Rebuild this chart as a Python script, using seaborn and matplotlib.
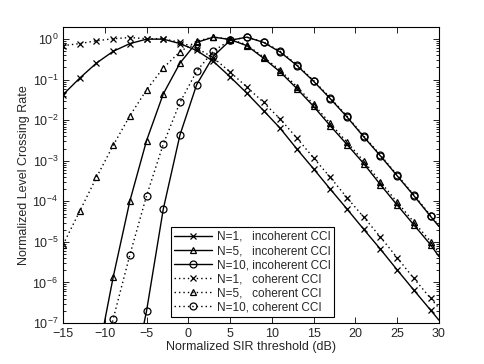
import numpy as np
import pandas as pd
import matplotlib
matplotlib.use("Agg")
import matplotlib.pyplot as plt
from matplotlib.lines import Line2D
import seaborn as sns

# SIR threshold (dB) for each curve; markers sit on the odd values
x_n1 = [-15, -13, -11, -9, -7, -5, -3, -1, 1, 3, 5, 7, 9, 11, 13, 15, 17, 19, 21, 23, 25, 27, 29, 30]
x_n5_incoh = [-11, -9, -7, -5, -3, -1, 1, 3, 5, 7, 9, 11, 13, 15, 17, 19, 21, 23, 25, 27, 29, 30]
x_n5_coh = x_n1
x_n10_incoh = [-7, -5, -3, -1, 1, 3, 5, 7, 9, 11, 13, 15, 17, 19, 21, 23, 25, 27, 29, 30]
x_n10_coh = x_n5_incoh

# log10 of the normalized level crossing rate
n1_incoh = [-1.37, -0.96, -0.59, -0.30, -0.11, 0.0, 0.0, -0.11, -0.28, -0.55, -0.93, -1.33,
            -1.76, -2.2, -2.71, -3.2, -3.70, -4.19, -4.69, -5.18, -5.69, -6.19, -6.68, -6.93]
n5_incoh = [-8.0, -5.87, -3.99, -2.50, -1.35, -0.59, -0.08, 0.05, -0.01, -0.16, -0.47,
            -0.81, -1.22, -1.66, -2.14, -2.60, -3.07, -3.59, -4.09, -4.58, -5.07, -5.36]
n10_incoh = [-8.7, -6.70, -4.19, -2.36, -1.12, -0.42, -0.03, 0.05, -0.08, -0.32, -0.65,
             -1.04, -1.47, -1.92, -2.41, -2.88, -3.37, -3.86, -4.37, -4.62]
n1_coh = [-0.16, -0.11, -0.04, 0.01, 0.04, 0.01, 0.01, -0.08, -0.22, -0.46, -0.81, -1.18,
          -1.56, -1.97, -2.44, -2.93, -3.41, -3.91, -4.39, -4.88, -5.39, -5.90, -6.39, -6.63]
n5_coh = [-5.07, -4.24, -3.41, -2.62, -1.89, -1.25, -0.71, -0.31, -0.05, 0.05, 0.0, -0.14,
          -0.44, -0.77, -1.17, -1.61, -2.08, -2.54, -3.01, -3.52, -4.02, -4.51, -4.99, -5.27]
n10_coh = [-8.6, -6.90, -5.32, -3.86, -2.59, -1.56, -0.79, -0.29, -0.03, 0.05, -0.07,
           -0.30, -0.63, -1.02, -1.45, -1.90, -2.39, -2.86, -3.35, -3.84, -4.35, -4.60]

labels = ["N=1,   incoherent CCI", "N=5,   incoherent CCI", "N=10, incoherent CCI",
          "N=1,   coherent CCI", "N=5,   coherent CCI", "N=10, coherent CCI"]

sns.set_style("ticks", {"xtick.direction": "in", "ytick.direction": "in"})
plt.rcParams["font.family"] = ["Liberation Sans", "DejaVu Sans"]
plt.rcParams["mathtext.fontset"] = "custom"
plt.rcParams["mathtext.rm"] = "Liberation Sans"
plt.rcParams["mathtext.it"] = "Liberation Sans"

fig = plt.figure(figsize=(4.85, 3.64), dpi=100)
ax = fig.add_axes([0.130, 0.1126, 0.775, 0.8134])

solid = "-"
dotted = (0, (1, 2.2))
series = [
    (x_n1, n1_incoh, solid, "x"),
    (x_n5_incoh, n5_incoh, solid, "^"),
    (x_n10_incoh, n10_incoh, solid, "o"),
    (x_n1, n1_coh, dotted, "x"),
    (x_n5_coh, n5_coh, dotted, "^"),
    (x_n10_coh, n10_coh, dotted, "o"),
]

handles = []
for (xs, logs, ls, mk), lab in zip(series, labels):
    df = pd.DataFrame({"x": xs, "y": np.power(10.0, logs)})
    sns.lineplot(data=df, x="x", y="y", ax=ax, color="k", linewidth=1.0,
                 linestyle=ls, estimator=None, sort=False, legend=False)
    m = df[df["x"] % 2 != 0]
    ax.plot(m["x"], m["y"], linestyle="none", marker=mk, markersize=5,
            markerfacecolor="none", markeredgecolor="k", markeredgewidth=0.9)
    handles.append(Line2D([], [], color="k", linewidth=1.0, linestyle=ls, marker=mk,
                          markersize=5, markerfacecolor="none", markeredgecolor="k",
                          markeredgewidth=0.9))

ax.set_yscale("log")
ax.set_xlim(-15, 30)
ax.set_ylim(1e-7, 2)
ax.set_xticks(np.arange(-15, 31, 5))
ax.set_yticks([10.0 ** k for k in range(-7, 1)])
ax.tick_params(which="both", top=True, right=True, direction="in", labelsize=9,
               color="k", width=0.6)
ax.tick_params(which="major", length=4)
ax.tick_params(which="minor", length=2)
for s in ax.spines.values():
    s.set_linewidth(0.8)
    s.set_color("k")

ax.set_xlabel("Normalized SIR threshold (dB)", fontsize=9, labelpad=1)
ax.set_ylabel("Normalized Level Crossing Rate", fontsize=9, labelpad=2)

leg = ax.legend(handles, labels, loc="lower left", bbox_to_anchor=(0.286, 0.02),
                fontsize=8.5, frameon=True, fancybox=False, edgecolor="k",
                framealpha=1, handlelength=3.2, labelspacing=0.18, borderpad=0.3,
                handletextpad=0.4, borderaxespad=0)
leg.get_frame().set_linewidth(0.8)

fig.savefig("out.png", dpi=100)
